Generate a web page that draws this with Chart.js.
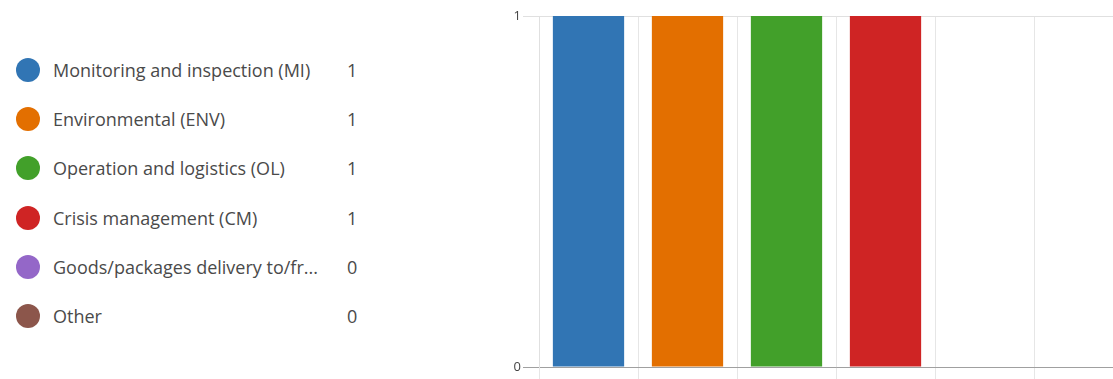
<!DOCTYPE html>
<html>
<head>
<meta charset="utf-8">
<script src="https://cdn.jsdelivr.net/npm/chart.js@4"></script>
<style>
  html, body { margin: 0; padding: 0; width: 1113px; height: 379px; overflow: hidden; background: #fff; }
  #legend { position: absolute; left: 16px; top: 0; font-family: "Open Sans", "Noto Sans", sans-serif; font-size: 18px; color: #4a4a4a; }
  .item { position: absolute; left: 0; height: 24px; width: 360px; white-space: nowrap; }
  .dot { position: absolute; left: 0; top: 0; width: 24px; height: 24px; border-radius: 50%; }
  .lbl { position: absolute; left: 37px; top: 0; line-height: 24px; }
  .val { position: absolute; left: 331px; top: 0; line-height: 24px; }
  #wrap { position: absolute; left: 500px; top: 0; width: 633px; height: 400px; }
</style>
</head>
<body>
<div id="legend"></div>
<div id="wrap"><canvas id="c"></canvas></div>
<script>
const categories = ["Monitoring and inspection (MI)", "Environmental (ENV)", "Operation and logistics (OL)", "Crisis management (CM)", "Goods/packages delivery to/from", "Other"];
const legendLabels = ["Monitoring and inspection (MI)", "Environmental (ENV)", "Operation and logistics (OL)", "Crisis management (CM)", "Goods/packages delivery to/fr...", "Other"];
const counts = [1, 1, 1, 1, 0, 0];
const colors = ["#3175b4", "#e36f00", "#42a02a", "#cf2424", "#9467c8", "#8c564b"];
const yTicks = [0, 1];

const legend = document.getElementById('legend');
legendLabels.forEach((name, i) => {
  const it = document.createElement('div');
  it.className = 'item';
  it.style.top = (58 + i * 49.2) + 'px';
  it.innerHTML = '<div class="dot" style="background:' + colors[i] + '"></div><span class="lbl"></span><span class="val"></span>';
  it.querySelector('.lbl').textContent = name;
  it.querySelector('.val').textContent = String(counts[i]);
  legend.appendChild(it);
});

new Chart(document.getElementById('c'), {
  type: 'bar',
  data: {
    labels: categories,
    datasets: [{
      data: counts,
      backgroundColor: colors,
      borderColor: colors,
      borderWidth: 0,
      categoryPercentage: 0.72,
      barPercentage: 1
    }]
  },
  options: {
    responsive: true,
    maintainAspectRatio: false,
    animation: false,
    layout: { padding: { top: 16, right: 0, bottom: 0, left: 0 } },
    plugins: { legend: { display: false }, tooltip: { enabled: false } },
    scales: {
      x: {
        offset: true,
        grid: { offset: true, color: '#e6e6e6', lineWidth: 1, tickLength: 12, drawTicks: true },
        border: { display: true, color: '#a0a0a0' },
        ticks: { display: false },
        afterFit: s => { s.height = 33; }
      },
      y: {
        min: 0, max: 1,
        afterBuildTicks: s => { s.ticks = yTicks.map(v => ({ value: v })); },
        grid: {
          color: c => (c.tick && c.tick.value === 0) ? '#a0a0a0' : '#e0e0e0',
          tickLength: 16
        },
        border: { display: true, color: '#e0e0e0' },
        ticks: { color: '#444', font: { family: 'Open Sans', size: 13 }, padding: 2 },
        afterFit: s => { s.width = 39; }
      }
    }
  }
});
</script>
</body>
</html>
